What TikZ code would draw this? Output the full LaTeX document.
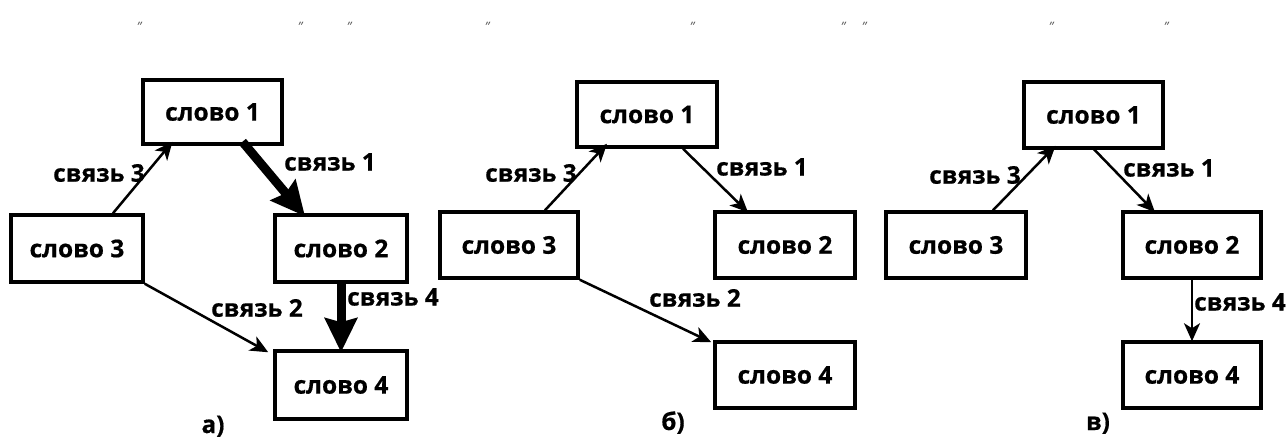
\documentclass[tikz,border=0pt]{standalone}
\usepackage{fontspec}
\setmainfont{Open Sans}[BoldFont={Open Sans Bold}, ItalicFont={Open Sans Italic}, BoldFeatures={FakeBold=0.6}]
\usetikzlibrary{arrows.meta}
\tikzset{
  wbox/.style={draw=black, line width=3.5pt, inner sep=0pt, font=\fontsize{24.5}{28}\selectfont\bfseries},
  lbl/.style={inner sep=0pt, font=\fontsize{24.3}{27}\selectfont\bfseries},
  thin/.style={line width=2.5pt, -{Stealth[length=18pt,width=16pt,inset=5pt]}},
  thick/.style={line width=9pt, -{Stealth[length=34pt,width=32pt,inset=4pt]}},
  qm/.style={inner sep=0pt, text=black!65, font=\fontsize{13}{13}\selectfont\itshape}
}
\begin{document}
\begin{tikzpicture}[x=1pt,y=-1pt]
\useasboundingbox (0,0) rectangle (1288,438);
% quote marks
\foreach \qx [count=\i] in {139,300,349,487,692,843,864,1051,1166}
  \node[qm] (q\i) at (\qx,27) {"};
% ---------- panel a ----------
\node[wbox, minimum width=139pt, minimum height=64pt] (a1) at (212.5,112) {слово 1};
\node[wbox, minimum width=132pt, minimum height=67pt] (a3) at (77,248.5) {слово 3};
\node[wbox, minimum width=132pt, minimum height=67pt] (a2) at (341,248.5) {слово 2};
\node[wbox, minimum width=132pt, minimum height=68pt] (a4) at (341,385) {слово 4};
\draw[thin] ([xshift=36pt]a3.north) -- ([xshift=-40pt,yshift=4pt]a1.south);
\draw[thick] ([xshift=30pt,yshift=4pt]a1.south) -- ([xshift=-36pt,yshift=-3pt]a2.north);
\draw[thin] (a3.south east) -- ([xshift=-5pt,yshift=-3pt]a4.north west);
\draw[thick] (a2.south) -- ([yshift=-3pt]a4.north);
\node[lbl] (la3) at (99,173) {связь 3};
\node[lbl] (la1) at (330,162) {связь 1};
\node[lbl] (la2) at (257,308) {связь 2};
\node[lbl] (la4) at (393,297) {связь 4};
\node[lbl, anchor=base] (pa) at (213,433) {а)};
% ---------- panel b ----------
\node[wbox, minimum width=140pt, minimum height=65pt] (b1) at (647,114.5) {слово 1};
\node[wbox, minimum width=138pt, minimum height=66pt] (b3) at (509,245) {слово 3};
\node[wbox, minimum width=140pt, minimum height=66pt] (b2) at (785,245) {слово 2};
\node[wbox, minimum width=140pt, minimum height=66pt] (b4) at (785,375) {слово 4};
\draw[thin] ([xshift=36pt]b3.north) -- ([xshift=-40pt,yshift=5pt]b1.south);
\draw[thin] ([xshift=36pt]b1.south) -- ([xshift=-37pt,yshift=-2pt]b2.north);
\draw[thin] (b3.south east) -- ([xshift=-2pt,yshift=-2pt]b4.north west);
\node[lbl] (lb3) at (531,173) {связь 3};
\node[lbl] (lb1) at (762,167) {связь 1};
\node[lbl] (lb2) at (695,298) {связь 2};
\node[lbl, anchor=base] (pb) at (673,430) {б)};
% ---------- panel c ----------
\node[wbox, minimum width=139pt, minimum height=66pt] (c1) at (1093.5,115) {слово 1};
\node[wbox, minimum width=140pt, minimum height=66pt] (c3) at (956,245) {слово 3};
\node[wbox, minimum width=138pt, minimum height=66pt] (c2) at (1192,245) {слово 2};
\node[wbox, minimum width=138pt, minimum height=66pt] (c4) at (1192,375) {слово 4};
\draw[thin] ([xshift=37pt]c3.north) -- ([xshift=-38pt,yshift=4pt]c1.south);
\draw[thin] ([xshift=-1pt,yshift=2pt]c1.south) -- ([xshift=-37pt,yshift=-2pt]c2.north);
\draw[thin] (c2.south) -- ([yshift=-1pt]c4.north);
\node[lbl] (lc3) at (975,175) {связь 3};
\node[lbl] (lc1) at (1169,168) {связь 1};
\node[lbl] (lc4) at (1240,302) {связь 4};
\node[lbl, anchor=base] (pc) at (1098,430) {в)};
\end{tikzpicture}
\end{document}
